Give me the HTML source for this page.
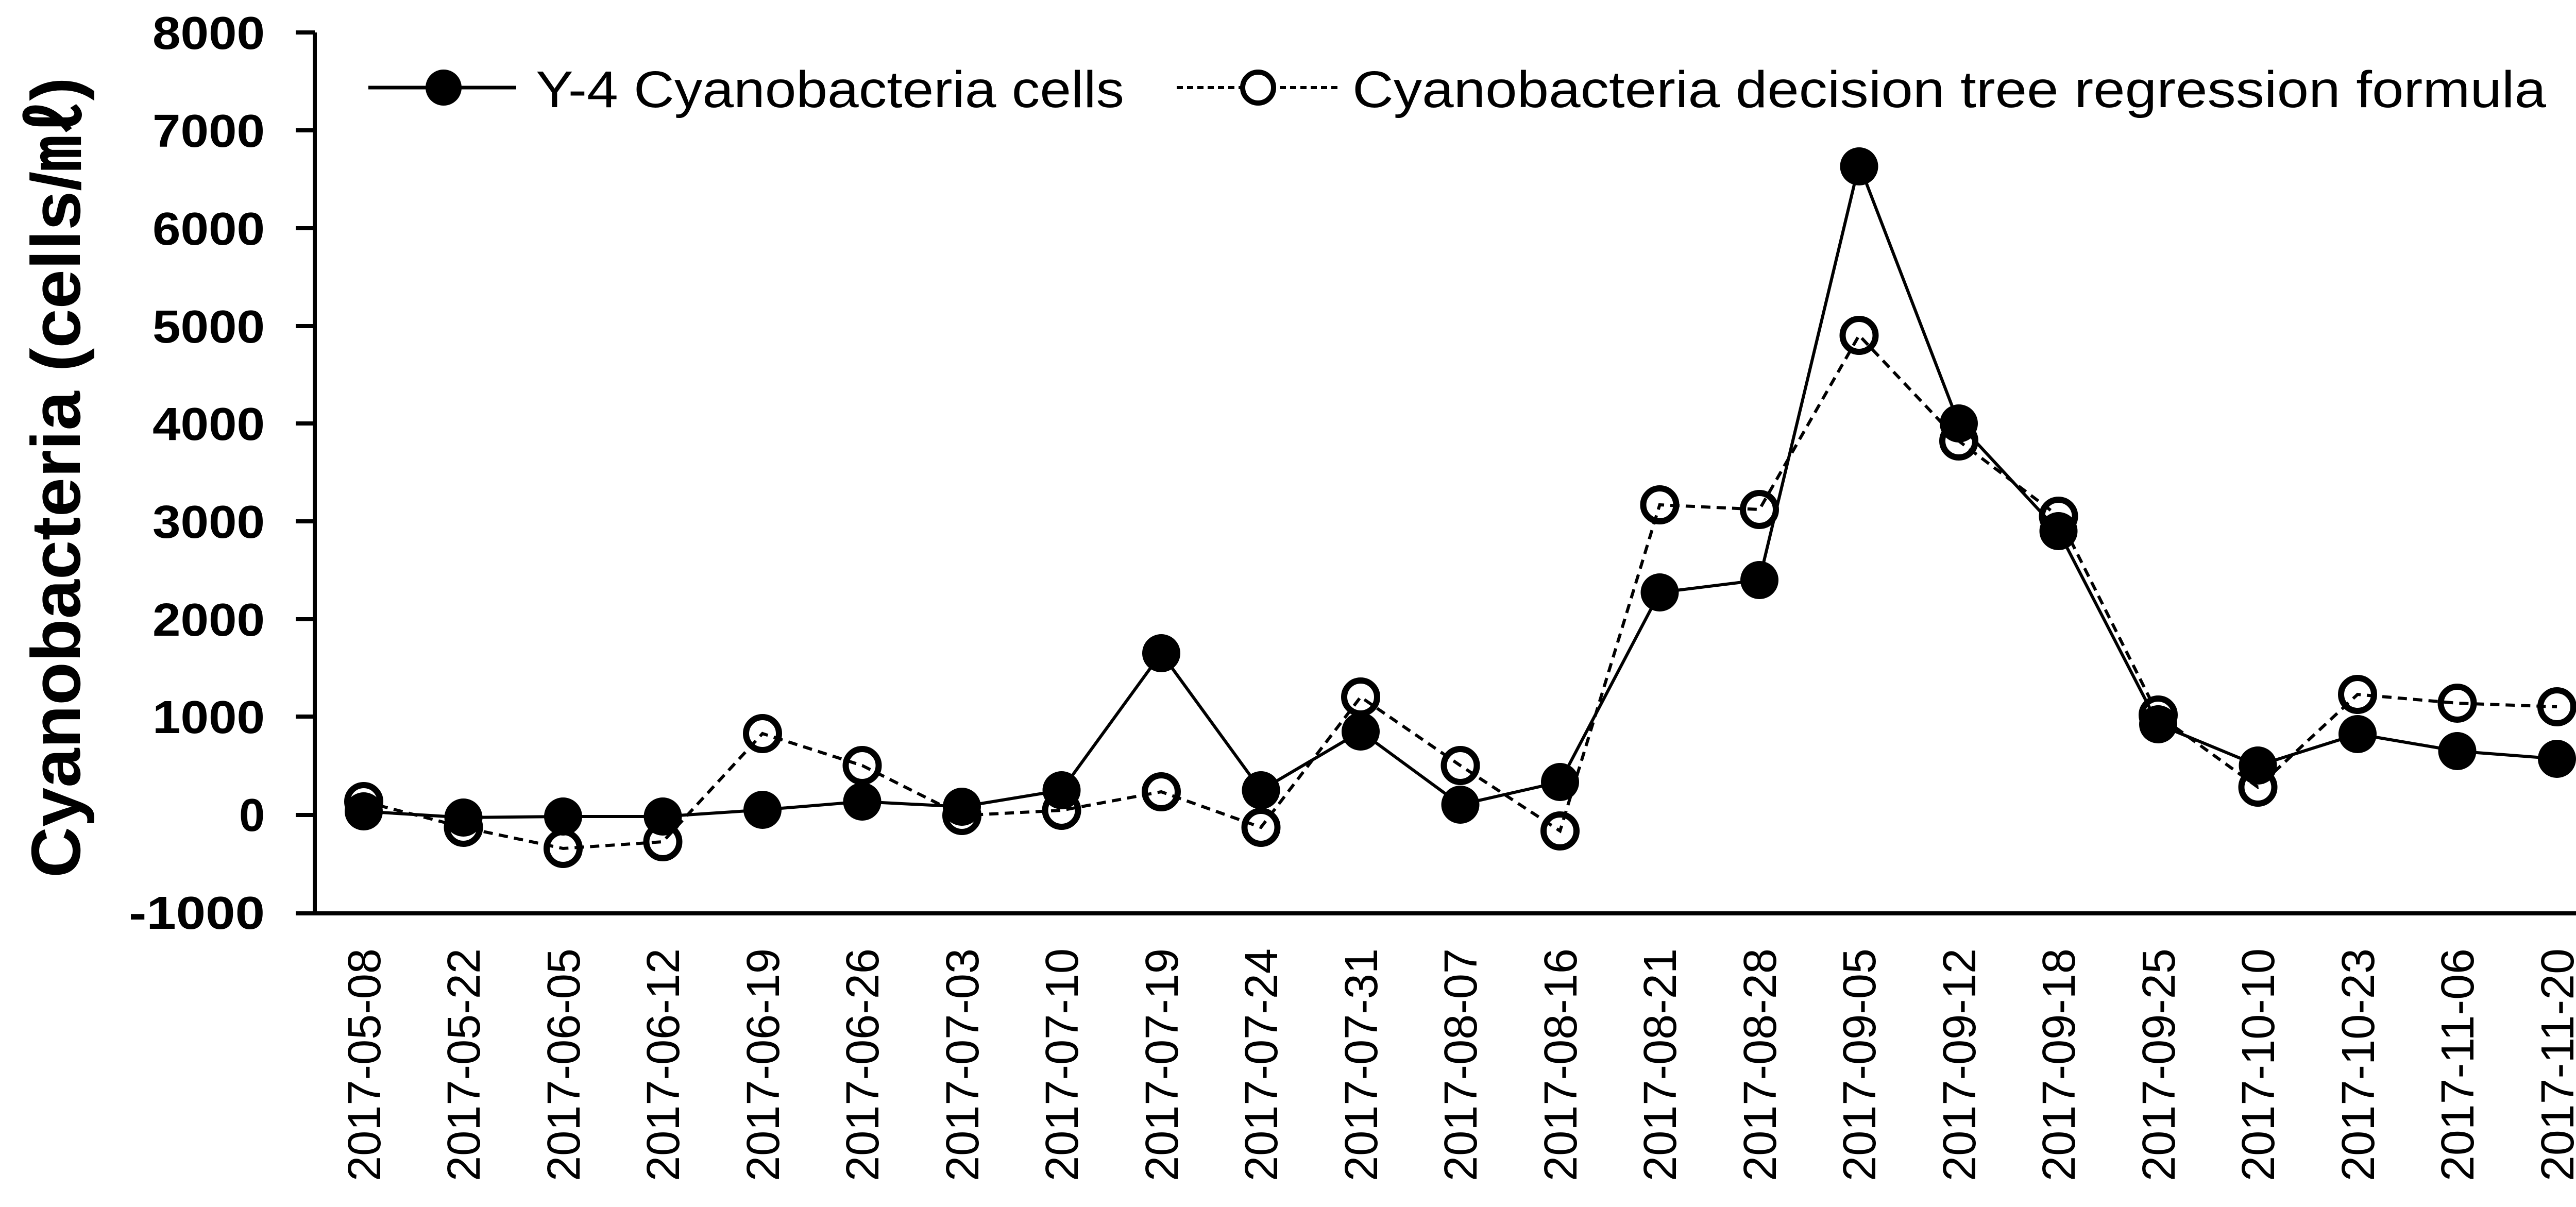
<!DOCTYPE html>
<html><head><meta charset="utf-8"><style>html,body{margin:0;padding:0;background:#fff}svg{display:block}</style></head>
<body>
<svg width="5103" height="2343" viewBox="0 0 5103 2343" xmlns="http://www.w3.org/2000/svg">
<rect width="5103" height="2343" fill="#fff"/>
<g stroke="#000" stroke-width="8" fill="none">
<line x1="611" y1="63" x2="611" y2="1773"/>
<line x1="574" y1="1773" x2="5060" y2="1773"/>
<line x1="574" y1="63" x2="611" y2="63"/>
<line x1="574" y1="253" x2="611" y2="253"/>
<line x1="574" y1="443" x2="611" y2="443"/>
<line x1="574" y1="633" x2="611" y2="633"/>
<line x1="574" y1="822" x2="611" y2="822"/>
<line x1="574" y1="1012" x2="611" y2="1012"/>
<line x1="574" y1="1202" x2="611" y2="1202"/>
<line x1="574" y1="1391" x2="611" y2="1391"/>
<line x1="574" y1="1582" x2="611" y2="1582"/>
</g>
<g font-family="Liberation Sans, sans-serif" font-weight="bold" font-size="90" text-anchor="end" fill="#000">
<text x="514" y="95" textLength="218" lengthAdjust="spacingAndGlyphs">8000</text>
<text x="514" y="285" textLength="218" lengthAdjust="spacingAndGlyphs">7000</text>
<text x="514" y="475" textLength="218" lengthAdjust="spacingAndGlyphs">6000</text>
<text x="514" y="665" textLength="218" lengthAdjust="spacingAndGlyphs">5000</text>
<text x="514" y="854" textLength="218" lengthAdjust="spacingAndGlyphs">4000</text>
<text x="514" y="1044" textLength="218" lengthAdjust="spacingAndGlyphs">3000</text>
<text x="514" y="1234" textLength="218" lengthAdjust="spacingAndGlyphs">2000</text>
<text x="514" y="1423" textLength="218" lengthAdjust="spacingAndGlyphs">1000</text>
<text x="514" y="1613">0</text>
<text x="514" y="1803" textLength="264" lengthAdjust="spacingAndGlyphs">-1000</text>
</g>
<text transform="translate(155,927) rotate(-90)" font-family="Liberation Sans, sans-serif" font-weight="bold" font-size="135" text-anchor="middle" textLength="1554" lengthAdjust="spacingAndGlyphs">Cyanobacteria (cells/㎖)</text>
<g font-family="Liberation Sans, sans-serif" font-size="90" text-anchor="end" fill="#000">
<text transform="translate(738,1841) rotate(-90)" textLength="452" lengthAdjust="spacingAndGlyphs">2017-05-08</text>
<text transform="translate(931,1841) rotate(-90)" textLength="452" lengthAdjust="spacingAndGlyphs">2017-05-22</text>
<text transform="translate(1125,1841) rotate(-90)" textLength="452" lengthAdjust="spacingAndGlyphs">2017-06-05</text>
<text transform="translate(1318,1841) rotate(-90)" textLength="452" lengthAdjust="spacingAndGlyphs">2017-06-12</text>
<text transform="translate(1512,1841) rotate(-90)" textLength="452" lengthAdjust="spacingAndGlyphs">2017-06-19</text>
<text transform="translate(1705,1841) rotate(-90)" textLength="452" lengthAdjust="spacingAndGlyphs">2017-06-26</text>
<text transform="translate(1899,1841) rotate(-90)" textLength="452" lengthAdjust="spacingAndGlyphs">2017-07-03</text>
<text transform="translate(2092,1841) rotate(-90)" textLength="452" lengthAdjust="spacingAndGlyphs">2017-07-10</text>
<text transform="translate(2286,1841) rotate(-90)" textLength="452" lengthAdjust="spacingAndGlyphs">2017-07-19</text>
<text transform="translate(2479,1841) rotate(-90)" textLength="452" lengthAdjust="spacingAndGlyphs">2017-07-24</text>
<text transform="translate(2673,1841) rotate(-90)" textLength="452" lengthAdjust="spacingAndGlyphs">2017-07-31</text>
<text transform="translate(2866,1841) rotate(-90)" textLength="452" lengthAdjust="spacingAndGlyphs">2017-08-07</text>
<text transform="translate(3060,1841) rotate(-90)" textLength="452" lengthAdjust="spacingAndGlyphs">2017-08-16</text>
<text transform="translate(3253,1841) rotate(-90)" textLength="452" lengthAdjust="spacingAndGlyphs">2017-08-21</text>
<text transform="translate(3447,1841) rotate(-90)" textLength="452" lengthAdjust="spacingAndGlyphs">2017-08-28</text>
<text transform="translate(3640,1841) rotate(-90)" textLength="452" lengthAdjust="spacingAndGlyphs">2017-09-05</text>
<text transform="translate(3834,1841) rotate(-90)" textLength="452" lengthAdjust="spacingAndGlyphs">2017-09-12</text>
<text transform="translate(4027,1841) rotate(-90)" textLength="452" lengthAdjust="spacingAndGlyphs">2017-09-18</text>
<text transform="translate(4221,1841) rotate(-90)" textLength="452" lengthAdjust="spacingAndGlyphs">2017-09-25</text>
<text transform="translate(4414,1841) rotate(-90)" textLength="452" lengthAdjust="spacingAndGlyphs">2017-10-10</text>
<text transform="translate(4608,1841) rotate(-90)" textLength="452" lengthAdjust="spacingAndGlyphs">2017-10-23</text>
<text transform="translate(4801,1841) rotate(-90)" textLength="452" lengthAdjust="spacingAndGlyphs">2017-11-06</text>
<text transform="translate(4995,1841) rotate(-90)" textLength="452" lengthAdjust="spacingAndGlyphs">2017-11-20</text>
</g>
<polyline fill="none" stroke="#000" stroke-width="6" stroke-dasharray="18,12" points="706,1556 899.5,1606 1093,1647 1286.5,1634 1480,1424 1673.5,1486 1867,1583 2060.5,1573 2254,1537 2447.5,1606 2641,1353 2834.5,1486 3028,1613 3221.5,980 3415,989 3608.5,651 3802,856 3995.5,1002 4189,1388 4382.5,1528 4576,1348 4769.5,1365 4963,1372"/>
<polyline fill="none" stroke="#000" stroke-width="6" points="706,1575 899.5,1587 1093,1585 1286.5,1585 1480,1572 1673.5,1556 1867,1566 2060.5,1534 2254,1268 2447.5,1534 2641,1420 2834.5,1562 3028,1518 3221.5,1150 3415,1126 3608.5,319 3802,822 3995.5,1031 4189,1406 4382.5,1486 4576,1425 4769.5,1458 4963,1473"/>
<g fill="#000">
<circle cx="706" cy="1575" r="37"/><circle cx="899.5" cy="1587" r="37"/><circle cx="1093" cy="1585" r="37"/><circle cx="1286.5" cy="1585" r="37"/><circle cx="1480" cy="1572" r="37"/><circle cx="1673.5" cy="1556" r="37"/><circle cx="1867" cy="1566" r="37"/><circle cx="2060.5" cy="1534" r="37"/><circle cx="2254" cy="1268" r="37"/><circle cx="2447.5" cy="1534" r="37"/><circle cx="2641" cy="1420" r="37"/><circle cx="2834.5" cy="1562" r="37"/><circle cx="3028" cy="1518" r="37"/><circle cx="3221.5" cy="1150" r="37"/><circle cx="3415" cy="1126" r="37"/><circle cx="3608.5" cy="323" r="37"/><circle cx="3802" cy="822" r="37"/><circle cx="3995.5" cy="1031" r="37"/><circle cx="4189" cy="1406" r="37"/><circle cx="4382.5" cy="1486" r="37"/><circle cx="4576" cy="1425" r="37"/><circle cx="4769.5" cy="1458" r="37"/><circle cx="4963" cy="1473" r="37"/>
</g>
<g fill="none" stroke="#000" stroke-width="12">
<circle cx="706" cy="1556" r="32"/><circle cx="899.5" cy="1606" r="32"/><circle cx="1093" cy="1647" r="32"/><circle cx="1286.5" cy="1634" r="32"/><circle cx="1480" cy="1424" r="32"/><circle cx="1673.5" cy="1486" r="32"/><circle cx="1867" cy="1583" r="32"/><circle cx="2060.5" cy="1573" r="32"/><circle cx="2254" cy="1537" r="32"/><circle cx="2447.5" cy="1606" r="32"/><circle cx="2641" cy="1353" r="32"/><circle cx="2834.5" cy="1486" r="32"/><circle cx="3028" cy="1613" r="32"/><circle cx="3221.5" cy="980" r="32"/><circle cx="3415" cy="989" r="32"/><circle cx="3608.5" cy="651" r="32"/><circle cx="3802" cy="856" r="32"/><circle cx="3995.5" cy="1002" r="32"/><circle cx="4189" cy="1388" r="32"/><circle cx="4382.5" cy="1528" r="32"/><circle cx="4576" cy="1348" r="32"/><circle cx="4769.5" cy="1365" r="32"/><circle cx="4963" cy="1372" r="32"/>
</g>
<line x1="715" y1="170" x2="1002" y2="170" stroke="#000" stroke-width="7"/>
<circle cx="861" cy="170" r="35" fill="#000"/>
<text x="1040" y="208" font-family="Liberation Sans, sans-serif" font-size="100" textLength="1142" lengthAdjust="spacingAndGlyphs">Y-4 Cyanobacteria cells</text>
<line x1="2284" y1="170" x2="2600" y2="170" stroke="#000" stroke-width="6" stroke-dasharray="12,8"/>
<circle cx="2442" cy="170" r="30" fill="#fff" stroke="#000" stroke-width="10"/>
<text x="2625" y="208" font-family="Liberation Sans, sans-serif" font-size="100" textLength="2317" lengthAdjust="spacingAndGlyphs">Cyanobacteria decision tree regression formula</text>
</svg>
</body></html>
